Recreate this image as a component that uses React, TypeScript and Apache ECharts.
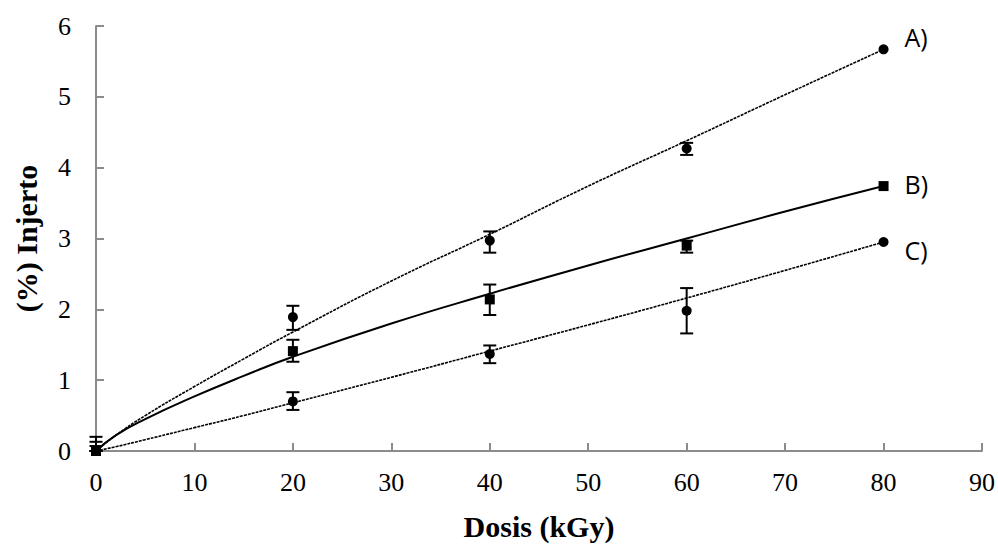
import React, { useEffect, useRef } from "react";
import * as echarts from "echarts";

// Measured points [dose kGy, % graft]
const seriesA: number[][] = [[0, 0], [20, 1.89], [40, 2.97], [60, 4.27], [80, 5.67]];
const seriesB: number[][] = [[0, 0], [20, 1.41], [40, 2.14], [60, 2.9], [80, 3.74]];
const seriesC: number[][] = [[0, 0], [20, 0.7], [40, 1.37], [60, 1.98], [80, 2.95]];

// Error bars [x, low, high]
const errA: number[][] = [[0, 0, 0.2], [20, 1.71, 2.05], [40, 2.8, 3.1], [60, 4.18, 4.35]];
const errB: number[][] = [[0, 0, 0.13], [20, 1.26, 1.57], [40, 1.92, 2.35], [60, 2.8, 2.97]];
const errC: number[][] = [[0, 0, 0.07], [20, 0.58, 0.83], [40, 1.24, 1.49], [60, 1.66, 2.3]];

// Trend curves
const trendA: number[][] = [[0, 0], [2, 0.22], [5, 0.5], [10, 0.91], [15, 1.3], [20, 1.68], [30, 2.4], [40, 3.06], [50, 3.74], [60, 4.38], [70, 5.03], [80, 5.67]];
const trendB: number[][] = [[0, 0], [2, 0.22], [5, 0.45], [10, 0.77], [15, 1.06], [20, 1.33], [30, 1.8], [40, 2.22], [50, 2.62], [60, 3.0], [70, 3.38], [80, 3.74]];
const trendC: number[][] = [[0, 0], [2, 0.06], [5, 0.16], [10, 0.33], [15, 0.5], [20, 0.68], [30, 1.04], [40, 1.41], [50, 1.78], [60, 2.16], [70, 2.55], [80, 2.95]];

const seriesLabels = ["A)", "B)", "C)"];
const xTicks = { min: 0, max: 90, interval: 10 };
const yTicks = { min: 0, max: 6, interval: 1 };

const errorSeries = (data: number[][]) => ({
  type: "custom",
  data,
  z: 4,
  renderItem: (params: any, api: any) => {
    const x = api.value(0);
    const lo = api.coord([x, api.value(1)]);
    const hi = api.coord([x, api.value(2)]);
    const w = 6.5;
    const style = { stroke: "#000", lineWidth: 2 };
    return {
      type: "group",
      children: [
        { type: "line", shape: { x1: lo[0], y1: lo[1], x2: hi[0], y2: hi[1] }, style },
        { type: "line", shape: { x1: lo[0] - w, y1: lo[1], x2: lo[0] + w, y2: lo[1] }, style },
        { type: "line", shape: { x1: hi[0] - w, y1: hi[1], x2: hi[0] + w, y2: hi[1] }, style },
      ],
    };
  },
});

const pointSeries = (data: number[][], symbol: string, label: string, offset: number[]) => ({
  type: "scatter",
  symbol,
  symbolSize: 10,
  itemStyle: { color: "#000", opacity: 1 },
  z: 5,
  data: data.map((d, i) =>
    i === data.length - 1
      ? {
          value: d,
          label: {
            show: true,
            formatter: label,
            position: "right",
            distance: 16,
            offset,
            fontFamily: "Open Sans",
            fontSize: 25,
            color: "#000",
          },
        }
      : d
  ),
});

const trendSeries = (data: number[][], dashed: boolean) => ({
  type: "line",
  data,
  smooth: true,
  symbol: "none",
  z: 3,
  lineStyle: dashed
    ? { color: "#000", width: 1.6, type: [3, 1] }
    : { color: "#000", width: 2, type: "solid" },
});

export default function App() {
  const ref = useRef<HTMLDivElement>(null);
  useEffect(() => {
    document.body.style.margin = "0";
    const chart = echarts.init(ref.current!, undefined, { renderer: "svg" });
    const axisFont = { fontFamily: "Liberation Serif", fontSize: 26, color: "#000" };
    const nameFont = { fontFamily: "Liberation Serif", fontSize: 30, fontWeight: "bold", color: "#000" };
    chart.setOption({
      animation: false,
      backgroundColor: "#fff",
      grid: { left: 96, right: 16, top: 26, bottom: 91 },
      xAxis: {
        type: "value",
        ...xTicks,
        name: "Dosis (kGy)",
        nameLocation: "middle",
        nameGap: 60,
        nameTextStyle: nameFont,
        axisLine: { lineStyle: { color: "#8c8c8c", width: 2 } },
        axisTick: { inside: true, length: 8, lineStyle: { color: "#8c8c8c", width: 2 } },
        axisLabel: { ...axisFont, margin: 18 },
        splitLine: { show: false },
      },
      yAxis: {
        type: "value",
        ...yTicks,
        name: "(%) Injerto",
        nameLocation: "middle",
        nameGap: 55,
        nameTextStyle: nameFont,
        axisLine: { show: true, lineStyle: { color: "#8c8c8c", width: 2 } },
        axisTick: { show: true, inside: true, length: 8, lineStyle: { color: "#8c8c8c", width: 2 } },
        axisLabel: { ...axisFont, margin: 25 },
        splitLine: { show: false },
      },
      series: [
        trendSeries(trendA, true),
        trendSeries(trendB, false),
        trendSeries(trendC, true),
        errorSeries(errA),
        errorSeries(errB),
        errorSeries(errC),
        pointSeries(seriesA, "circle", seriesLabels[0], [0, -12]),
        pointSeries(seriesB, "rect", seriesLabels[1], [0, -2]),
        pointSeries(seriesC, "circle", seriesLabels[2], [0, 8]),
      ],
    });
    return () => chart.dispose();
  }, []);
  return <div ref={ref} style={{ width: 998, height: 546 }} />;
}
